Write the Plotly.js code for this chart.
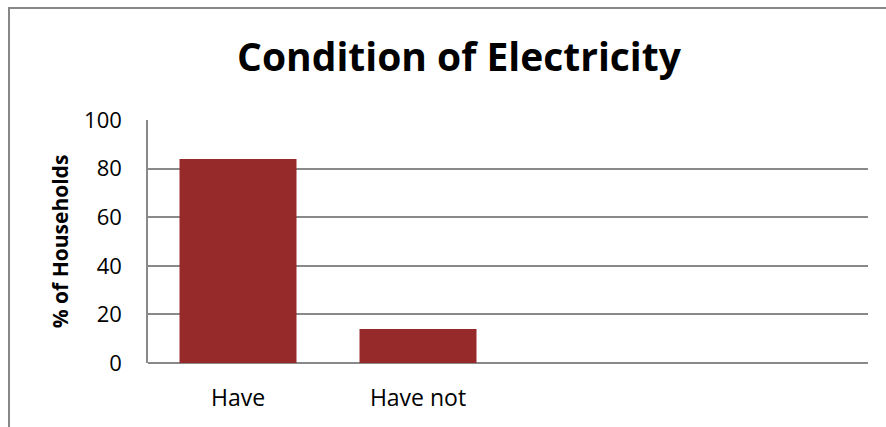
<!DOCTYPE html>
<html>
<head>
<meta charset="utf-8">
<script src="https://cdn.plot.ly/plotly-3.0.1.min.js"></script>
<style>
  html, body { margin: 0; padding: 0; background: #fff; overflow: hidden; }
  #frame {
    position: absolute; left: 8px; top: 7px;
    width: 900px; height: 440px;
    border: 2px solid #878787; box-sizing: content-box;
  }
  #chart { width: 900px; height: 440px; }
</style>
</head>
<body>
<div id="frame"><div id="chart"></div></div>
<script>
// Share of households with and without electricity
const categories = ['Have', 'Have not'];
const householdsPct = [84, 14];
const yTicks = [0, 20, 40, 60, 80, 100];

const baseFont = '"Open Sans", "Liberation Sans", sans-serif';
const W = 900, H = 440;

const trace = {
  type: 'bar',
  x: categories,
  y: householdsPct,
  width: 0.65,
  marker: { color: '#962a2a', line: { width: 0 } },
  hoverinfo: 'x+y'
};

const layout = {
  width: W,
  height: H,
  margin: { l: 138, r: 42, t: 111, b: 86 },
  paper_bgcolor: '#ffffff',
  plot_bgcolor: '#ffffff',
  showlegend: false,
  title: {
    text: '<b>Condition of Electricity</b>',
    font: { family: baseFont, size: 39, color: '#000' },
    x: 449 / W, xref: 'container', xanchor: 'center',
    y: 1 - 48 / H, yref: 'container', yanchor: 'middle'
  },
  xaxis: {
    type: 'category',
    range: [-0.5, 3.5],
    showgrid: false,
    showline: false,
    zeroline: false,
    ticks: '',
    ticklabelstandoff: 19,
    tickfont: { family: baseFont, size: 23, color: '#000' },
    fixedrange: true
  },
  yaxis: {
    range: [0, 100],
    tickvals: yTicks,
    ticktext: yTicks.map(String),
    showgrid: true,
    gridcolor: '#898989',
    gridwidth: 1.8,
    zeroline: true,
    zerolinecolor: '#898989',
    zerolinewidth: 1.8,
    showline: true,
    linecolor: '#898989',
    linewidth: 1.8,
    ticks: '',
    ticklabelstandoff: 20,
    tickfont: { family: baseFont, size: 22, color: '#000' },
    title: {
      text: '<b>% of Households</b>',
      font: { family: baseFont, size: 21, color: '#000' },
      standoff: 10
    },
    fixedrange: true
  }
};

Plotly.newPlot('chart', [trace], layout, { displayModeBar: false, staticPlot: true });
</script>
</body>
</html>
